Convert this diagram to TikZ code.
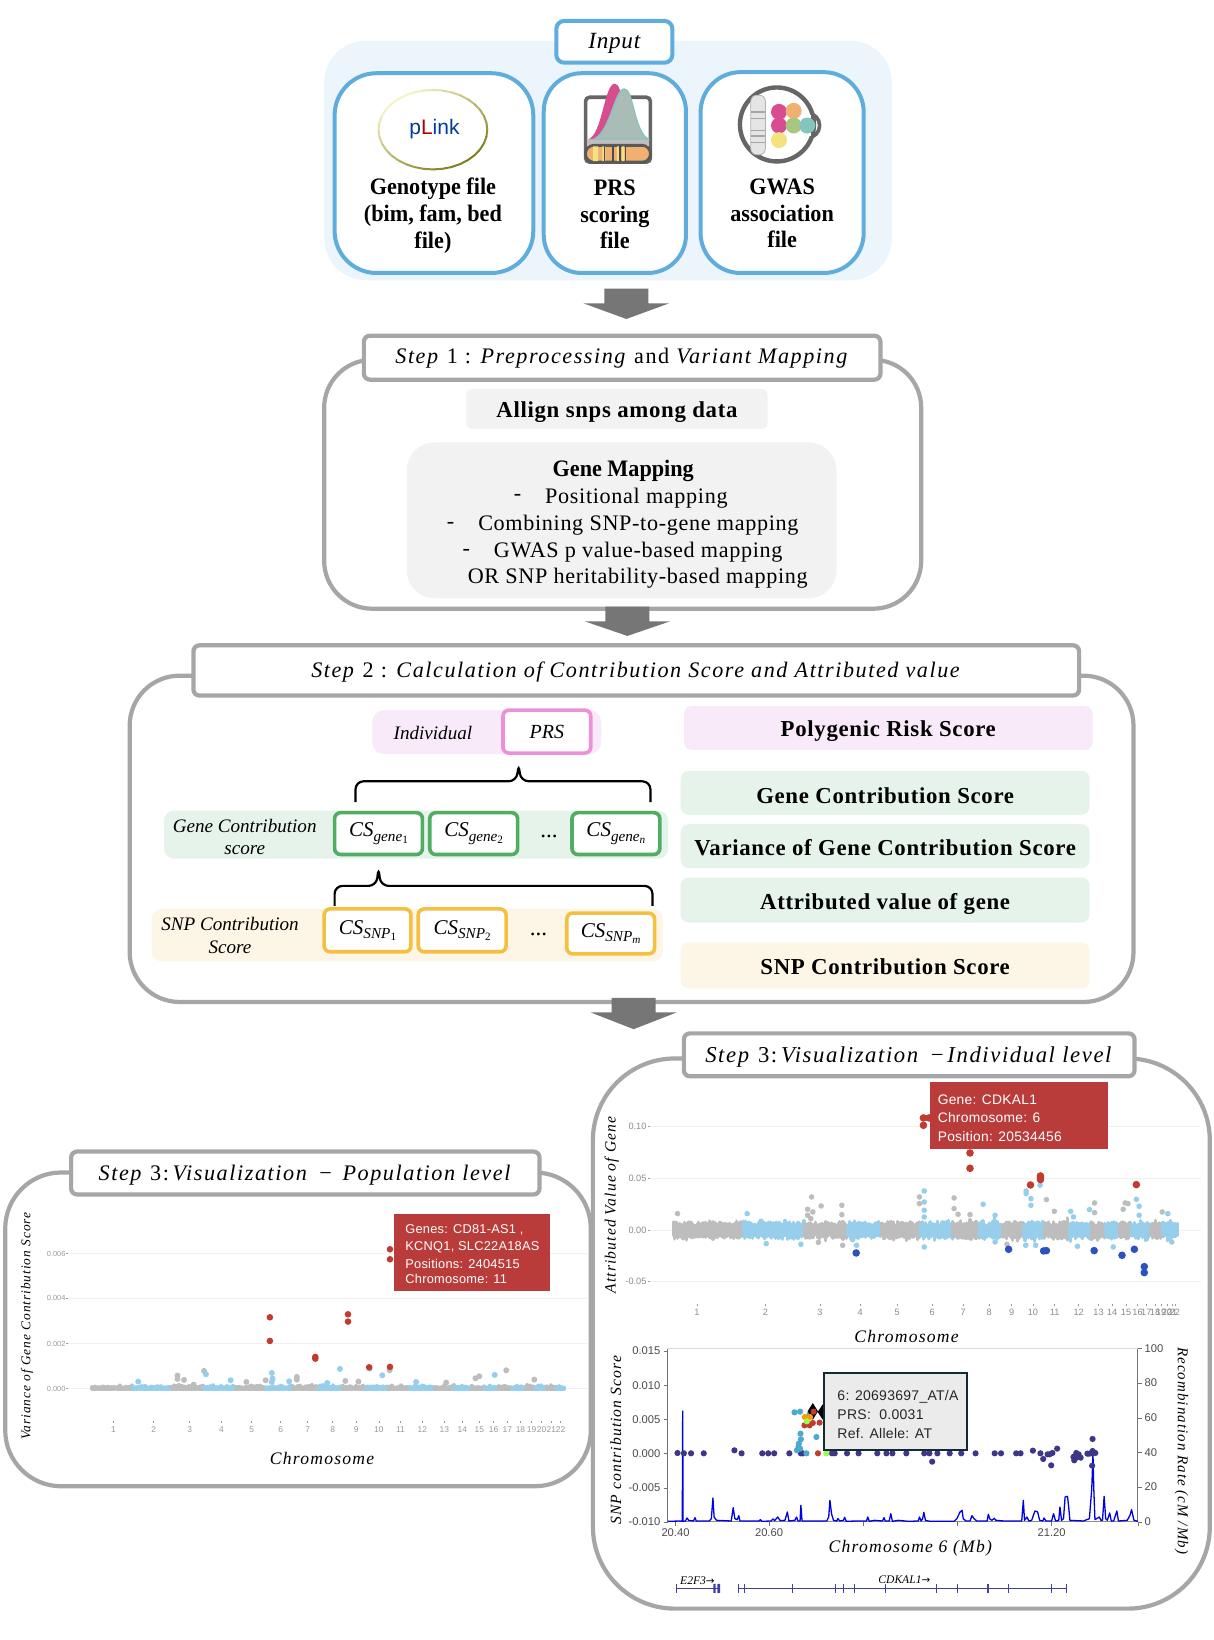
\documentclass[tikz,border=0pt]{standalone}
\usepackage{fontspec}
\setmainfont{Liberation Serif}
\setsansfont{Liberation Sans}
\newfontfamily\ttl[LetterSpace=7]{Liberation Serif}
\newfontfamily\lbl[LetterSpace=3]{Liberation Serif}
\newfontfamily\cond[FakeStretch=0.94]{Liberation Serif}
\newfontfamily\tip[LetterSpace=2]{Liberation Sans}
\newfontfamily\arrowfont{DejaVu Sans}
\definecolor{inblue}{HTML}{5FADDC}
\definecolor{inpanel}{HTML}{ECF5FC}
\definecolor{stepgray}{HTML}{A6A6A6}
\definecolor{arrowgray}{HTML}{767676}
\definecolor{softgray}{HTML}{F2F2F2}
\definecolor{pinkpanel}{HTML}{F8EAF8}
\definecolor{pinkline}{HTML}{EE90D8}
\definecolor{greenpanel}{HTML}{E6F3EA}
\definecolor{greenline}{HTML}{4FAE62}
\definecolor{orangepanel}{HTML}{FDF5E6}
\definecolor{orangeline}{HTML}{F5BF42}
\definecolor{tipred}{HTML}{BA3C3A}
\definecolor{dotred}{HTML}{C23B2E}
\definecolor{dotgray}{HTML}{BDBDBD}
\definecolor{dotblue}{HTML}{97CEEC}
\definecolor{dotdark}{HTML}{2B53BF}
\definecolor{navy}{HTML}{3D3689}
\definecolor{teal}{HTML}{4CA9CF}
\definecolor{trackblue}{HTML}{3F3FA5}
\definecolor{ylw}{HTML}{F4F4C8}
\definecolor{olv}{HTML}{7E7E1C}
\definecolor{icpink}{HTML}{D84C90}
\definecolor{icgreen}{HTML}{A9BDB6}
\definecolor{icteal}{HTML}{86C5BE}
\definecolor{icorange}{HTML}{EFB072}
\definecolor{icyellow}{HTML}{F3E27E}
\definecolor{icleaf}{HTML}{A7C77F}
\tikzset{
  rb/.style={rectangle,inner sep=0pt,align=center},
  inbox/.style={draw=inblue,line width=2pt,fill=white},
  stepbox/.style={draw=stepgray,line width=2.1pt,fill=white,rounded corners=3pt},
  mainbox/.style={draw=stepgray,line width=2.1pt,fill=white},
  softbox/.style={fill=softgray},
  txt/.style={inner sep=0pt,align=center,font=\fontsize{11.6}{13}\selectfont},
  gmtxt/.style={inner sep=0pt,align=center,font=\lbl\fontsize{11.08}{13}\selectfont},
  ital/.style={inner sep=0pt,align=center,font=\fontsize{9.55}{11.2}\selectfont\itshape},
  axl/.style={inner sep=0pt,font=\ttl\fontsize{7.8}{9}\selectfont\itshape},
  axx/.style={inner sep=0pt,font=\ttl\fontsize{8.8}{10}\selectfont\itshape},
  tiptext/.style={inner sep=0pt,anchor=west,text=white,font=\tip\fontsize{6.9}{8}\selectfont},
  sm/.style={inner sep=0pt,text=gray!80,font=\sffamily\fontsize{4.2}{5}\selectfont},
  smb/.style={inner sep=0pt,text=gray!90,font=\sffamily\fontsize{4.6}{5}\selectfont},
  ax/.style={inner sep=0pt,text=black!70,font=\sffamily\fontsize{5.6}{6}\selectfont},
  boldtxt/.style={inner sep=0pt,align=center,font=\cond\fontsize{11.8}{13.4}\selectfont\bfseries},
}
\newcommand\rbox[7]{%
  \pgfmathsetmacro\bw{(#5-#3)*0.52282}%
  \pgfmathsetmacro\bh{(#6-#4)*0.52296}%
  \pgfmathsetmacro\bx{(#3+#5)/2}%
  \pgfmathsetmacro\by{(#4+#6)/2}%
  \node[rb,#2,minimum width=\bw pt,minimum height=\bh pt] (#1) at (\bx,\by) {#7};}
\newcommand\blockarrow[4]{%
  \fill[arrowgray] ({#1-21},#2) -- ({#1+21},#2) -- ({#1+21},#3) -- ({#1+41},#3) -- (#1,#4) -- ({#1-41},#3) -- ({#1-21},#3) -- cycle;}
\newcommand\csub[2]{\textit{CS}\raisebox{-0.45ex}{\fontsize{7.6}{8}\selectfont\itshape #1\raisebox{-0.3ex}{\fontsize{5.6}{6}\selectfont #2}}}
\newcommand\dn[2]{\raisebox{0pt}[\dimexpr\height+#1pt+#1pt\relax][\depth]{#2}}
\newcommand\boldlab[2]{\dn{#1}{\lbl\fontsize{11.4}{13}\selectfont\bfseries #2}}
\begin{document}
\begin{tikzpicture}[x=0.52282pt,y=-0.52296pt]
\useasboundingbox (0,0) rectangle (1161,1568);
\fill[white] (0,0) rectangle (1161,1568);

% ---------- Input
\fill[inpanel,rounded corners=21pt] (310,39) rectangle (853,268);
\rbox{geno}{inbox,rounded corners=21pt}{320}{70}{510}{261}{}
\rbox{prsf}{inbox,rounded corners=19pt}{520}{70}{656}{261}{}
\rbox{gwas}{inbox,rounded corners=20pt}{670}{69}{826}{261}{}
\rbox{input}{inbox,rounded corners=4pt}{532}{20}{643}{60}{\dn{1}{\fontsize{11.6}{13}\selectfont\itshape\lbl Input}}
\node[boldtxt] (genot) at (414,206.5) {Genotype file\\(bim, fam, bed\\file)};
\node[boldtxt] (prst) at (588,205) {PRS\\scoring\\file};
\node[boldtxt] (gwast) at (748,204) {GWAS\\association\\file};

% plink logo
\foreach \a in {0,10,...,350}{
  \pgfmathtruncatemacro\p{100*(1+cos(\a-45))/2}
  \pgfmathsetmacro\b{\a+10}
  \draw[olv!\p!ylw,line width=1pt,line cap=round] ({414+52*cos(\a)},{124+38*sin(\a)}) -- ({414+52*cos(\b)},{124+38*sin(\b)});
}
\node[inner sep=0pt,font=\sffamily\fontsize{10.5}{12}\selectfont] (plink) at (415.5,123.5) {\textcolor{blue!60!cyan!60!black}{p}\textcolor{red!70!black}{L}\textcolor{blue!60!cyan!60!black}{ink}};

% PRS icon
\draw[black!60,line width=1.8pt,rounded corners=2pt,fill=white] (560,93) rectangle (622,155);
\fill[black!25] (561,133) rectangle (621,139);
\fill[icpink] (563,133) .. controls (576,128) and (578,80) .. (588,80) .. controls (596,80) and (596,115) .. (603,133) -- cycle;
\fill[fill=icgreen,draw=icteal,line width=.6pt] (568,133) .. controls (584,125) and (588,85) .. (597,85) .. controls (606,85) and (606,125) .. (620,133) -- cycle;
\fill[icorange,draw=black!65,line width=1.4pt,rounded corners=4pt] (560,139) rectangle (622,155);
\fill[icyellow] (567,140) rectangle (572,154) (576,140) rectangle (579,154) (590,140) rectangle (592,154) (595,140) rectangle (597,154);
\draw[black!70,line width=.8pt] (578,140) -- (578,154) (586,140)--(586,154) (593,140)--(593,154) (598,140)--(598,154);

% GWAS icon
\draw[black!60,line width=1.8pt,fill=white] (772,120) circle (6.2pt);
\draw[black!60,line width=2.2pt,fill=white] (743,119) circle (18.5pt);
\fill[white] (768,110) rectangle (776,130);
\fill[black!10,draw=black!30,line width=.4pt,rounded corners=3pt] (718,91) rectangle (732,148);
\foreach \yy in {107,113,125,130,136}{\draw[black!35,line width=.6pt] (718,\yy) -- (732,\yy);}
\foreach \cx/\cy/\cc in {745/107/icpink,759/106/icorange,745/120/icpink,759/120/icleaf,772/120/icteal,745/134/icyellow}{
  \fill[\cc] (\cx,\cy) circle (4pt);
}
\blockarrow{599}{276}{290}{305}

% ---------- Step 1
\rbox{s1main}{mainbox,rounded corners=24pt}{310}{344}{881}{582}{}
\rbox{s1title}{stepbox}{348}{321}{842}{363}{\dn{.3}{\ttl\fontsize{11.08}{13}\selectfont\textit{Step} 1 : \textit{Preprocessing} and \textit{Variant Mapping}}}
\rbox{allign}{softbox,rounded corners=3pt}{446}{372}{734}{410}{\boldlab{1.6}{Allign snps among data}}
\rbox{genemap}{softbox,rounded corners=14pt}{389}{423}{800}{572}{}
\node[boldtxt] (gm0) at (596,450) {Gene Mapping};
\node[gmtxt] (gmd1) at (495,476) {-};
\node[gmtxt,anchor=west] (gm1) at (521,476) {Positional mapping};
\node[gmtxt] (gmd2) at (431,502) {-};
\node[gmtxt,anchor=west] (gm2) at (457,502) {Combining SNP-to-gene mapping};
\node[gmtxt] (gmd3) at (446,528) {-};
\node[gmtxt,anchor=west] (gm3) at (472,528) {GWAS p value-based mapping};
\node[gmtxt,anchor=west] (gm4) at (447,553) {OR SNP heritability-based mapping};
\blockarrow{600}{580}{594}{608}

% ---------- Step 2
\rbox{s2main}{mainbox,rounded corners=25pt}{124}{646}{1084}{958}{}
\rbox{s2title}{stepbox}{185}{617}{1032}{665}{\dn{.8}{\ttl\fontsize{11.08}{13}\selectfont\textit{Step} 2 : \textit{Calculation of Contribution Score and Attributed value}}}
\rbox{indp}{fill=pinkpanel,rounded corners=6pt}{356}{679}{575}{721}{}
\node[ital] (indt) at (414,701) {Individual};
\rbox{prsb}{draw=pinkline,line width=1.8pt,fill=white,rounded corners=3pt}{481}{679}{565}{720}{\fontsize{10}{12}\selectfont\itshape PRS}
\draw[black,line width=1.1pt,rounded corners=4pt] (340,767) -- (340,747) -- (494,747) -- (496,730) -- (498,747) -- (622,747) -- (622,767);
\rbox{genep}{fill=greenpanel,rounded corners=5pt}{157}{775}{639}{821}{}
\node[ital] (genet) at (234,800.5) {Gene Contribution\\score};
\rbox{g1}{draw=greenline,line width=1.8pt,fill=white,rounded corners=3pt}{320}{777}{404}{817}{\fontsize{10.5}{12}\selectfont\csub{gene}{\upshape 1}}
\rbox{g2}{draw=greenline,line width=1.8pt,fill=white,rounded corners=3pt}{411}{777}{495}{817}{\fontsize{10.5}{12}\selectfont\csub{gene}{\upshape 2}}
\rbox{g3}{draw=greenline,line width=1.8pt,fill=white,rounded corners=3pt}{547}{777}{631}{817}{\fontsize{10.5}{12}\selectfont\csub{gene}{n}}
\node[txt] (gdots) at (525,800) {...};
\draw[black,line width=1.1pt,rounded corners=4pt] (320,866) -- (320,847) -- (360,847) -- (362,829) -- (364,847) -- (624,847) -- (624,866);
\rbox{snpp}{fill=orangepanel,rounded corners=5pt}{145}{869}{634}{919}{}
\node[ital] (snpt) at (220,894.5) {SNP Contribution\\Score};
\rbox{c1}{draw=orangeline,line width=1.8pt,fill=white,rounded corners=3pt}{310}{869}{393}{910}{\fontsize{10.5}{12}\selectfont\csub{SNP}{\upshape 1}}
\rbox{c2}{draw=orangeline,line width=1.8pt,fill=white,rounded corners=3pt}{400}{869}{484}{910}{\fontsize{10.5}{12}\selectfont\csub{SNP}{\upshape 2}}
\rbox{c3}{draw=orangeline,line width=1.8pt,fill=white,rounded corners=3pt}{542}{873}{626}{912}{\fontsize{10.5}{12}\selectfont\csub{SNP}{m}}
\node[txt] (sdots) at (515,893) {...};
\rbox{lprs}{fill=pinkpanel,rounded corners=4pt}{654}{675}{1045}{717}{\boldlab{1.6}{Polygenic Risk Score}}
\rbox{lgcs}{fill=greenpanel,rounded corners=4pt}{651}{737}{1042}{779}{\boldlab{1.4}{Gene Contribution Score}}
\rbox{lvar}{fill=greenpanel,rounded corners=4pt}{651}{788}{1042}{830}{\boldlab{0.8}{Variance of Gene Contribution Score}}
\rbox{latt}{fill=greenpanel,rounded corners=4pt}{651}{839}{1042}{882}{\boldlab{2}{Attributed value of gene}}
\rbox{lsnp}{fill=orangepanel,rounded corners=4pt}{651}{901}{1042}{945}{\boldlab{0.8}{SNP Contribution Score}}

% ---------- Step 3 population
\rbox{s3pop}{mainbox,rounded corners=28pt}{5}{1121}{565}{1421}{}
\rbox{s3ptitle}{stepbox}{68}{1101}{516}{1142}{\dn{1}{\ttl\fontsize{11.1}{13}\selectfont\textit{Step} 3:\,\textit{Visualization} \,−\, \textit{Population level}}}
\begin{scope}[shift={(0,1090.2)},x=0.19249pt,y=-0.16667pt]
  \foreach \zy/\lab in {340/0.006,474/0.004,610/0.002,745/0.000}{
    \draw[black!6,line width=.4pt] (175,\zy) -- (1525,\zy);
    \draw[black!40,line width=.3pt] (172,\zy) -- (176,\zy);
    \node[sm,anchor=east,font=\sffamily\fontsize{3.7}{4}\selectfont] (py\zy) at (171,\zy) {\lab};
  }
  \pgfmathsetseed{4242}
  \foreach \a/\b/\c in {240/298/dotgray,303/345/dotgray,345/448/dotblue,448/530/dotgray,530/612/dotblue,612/690/dotgray,690/762/dotblue,762/828/dotgray,828/890/dotblue,890/916/dotgray,922/950/dotgray,950/1010/dotblue,1010/1065/dotgray,1065/1130/dotblue,1130/1180/dotgray,1180/1225/dotblue,1225/1260/dotgray,1260/1295/dotblue,1295/1330/dotgray,1330/1365/dotblue,1365/1390/dotgray,1390/1420/dotblue,1420/1445/dotgray,1445/1465/dotblue}{
    \pgfmathsetmacro\nx{\a+4}
    \foreach \xx in {\a,\nx,...,\b}{
      \pgfmathsetmacro\yt{745-3-9*rnd*rnd}
      \draw[\c,line width=2pt,line cap=round] (\xx,\yt) -- (\xx,746);
    }
  }
  \foreach \xx/\yy in {461/706,461/716,478/719,530/692,690/720,771/710,771/718,897/722,931/724,1012/690,1159/727,1235/714,1245/708,1315/690,1388/718,640/725,503/733}{\fill[dotgray] (\xx,\yy) circle (1.5pt);}
  \foreach \xx/\yy in {359/724,535/702,599/720,706/698,708/715,751/723,883/686,850/728,993/705,1081/725,1285/704,960/685,706/725}{\fill[dotblue] (\xx,\yy) circle (1.5pt);}
  \foreach \xx/\yy in {701/531,701/602,904/522,904/544,819/650,819/655,959/681,1013/680,1013/327,1013/357}{\fill[dotred] (\xx,\yy) circle (1.65pt);}
  \foreach \xx/\lab [count=\i] in {295/1,399/2,493/3,575/4,654/5,729/6,799/7,864/8,925/9,984/10,1040/11,1097/12,1154/13,1201/14,1245/15,1282/16,1318/17,1352/18,1381/19,1407/20,1432/21,1456/22}{
    \draw[black!40,line width=.3pt] (\xx,843) -- (\xx,848);
    \node[sm] (px\i) at (\xx,868) {\lab};
  }
  \fill[tipred] (1023,220) rectangle (1428,452);
  \node[tiptext,font=\tip\fontsize{6.4}{8}\selectfont] (pt1) at (1052,268) {Genes: CD81-AS1 ,};
  \node[tiptext,font=\tip\fontsize{6.4}{8}\selectfont] (pt2) at (1052,320) {KCNQ1, SLC22A18AS};
  \node[tiptext,font=\tip\fontsize{6.4}{8}\selectfont] (pt3) at (1052,370) {Positions: 2404515};
  \node[tiptext,font=\tip\fontsize{6.4}{8}\selectfont] (pt4) at (1052,416) {Chromosome: 11};
\end{scope}
\node[axl,rotate=90,font=\ttl\fontsize{6.7}{8}\selectfont\itshape] (pyl) at (26,1268) {Variance of Gene Contribution Score};
\node[axx] (pxl) at (308,1394) {Chromosome};

% ---------- Step 3 individual
\rbox{s3ind}{mainbox,rounded corners=41pt}{567}{1012}{1157}{1538}{}
\rbox{s3ititle}{stepbox}{654}{988}{1085}{1029}{\dn{1}{\ttl\fontsize{11.35}{13}\selectfont\textit{Step} 3:\,\textit{Visualization} \,−\,\textit{Individual level}}}
\blockarrow{606}{954}{968}{984}
\begin{scope}[shift={(564.2,994.6)},x=0.19898pt,y=-0.16667pt]
  \foreach \zy/\lab in {259/0.10,415/0.05,570/0.00,724/-0.05}{
    \draw[black!6,line width=.4pt] (150,\zy) -- (1535,\zy);
    \draw[black!40,line width=.3pt] (147,\zy) -- (151,\zy);
    \node[smb,anchor=east] (iy\zy) at (143,\zy) {\lab};
  }
  \pgfmathsetseed{777}
  \foreach \a/\b/\c in {210/385/dotgray,385/540/dotblue,540/647/dotgray,647/733/dotblue,733/832/dotgray,832/910/dotblue,910/980/dotgray,980/1038/dotblue,1038/1090/dotgray,1090/1143/dotblue,1143/1205/dotgray,1205/1260/dotblue,1260/1295/dotgray,1295/1330/dotblue,1330/1362/dotgray,1362/1410/dotblue,1410/1440/dotgray,1440/1478/dotblue}{
    \pgfmathsetmacro\nx{\a+3}
    \foreach \xx in {\a,\nx,...,\b}{
      \pgfmathsetmacro\yt{570-13-12*rnd-30*rnd*rnd*rnd*rnd}
      \pgfmathsetmacro\yb{570+12+12*rnd+28*rnd*rnd*rnd*rnd}
      \draw[\c,line width=1.6pt,line cap=round] (\xx,\yt) -- (\xx,\yb);
    }
  }
  \foreach \xx/\yy in {557/470,547/507,547/525,581/497,633/495,633/523,828/470,828/490,915/473,915/505,925/522,955/523,1147/478,1167/513,1268/488,1268/517,1340/507,1345/488,1352/490,1438/515,220/520,574/606,635/615,1048/612,560/515,555/535}{\fill[dotgray] (\xx,\yy) circle (1.4pt);}
  \foreach \xx/\yy in {840/452,840/485,840/510,840/530,1096/452,1096/460,1108/475,1108/495,1131/435,988/492,1018/525,1208/513,1255/508,1373/477,1380/498,1452/520,430/543,395/520,443/610,530/612,660/598,670/615,840/620,1018/605,1095/615,1120/615,1225/618,1315/620,1462/605,1215/530,1380/525}{\fill[dotblue] (\xx,\yy) circle (1.4pt);}
  \foreach \xx/\yy in {669/638,1052/627,1140/632,1147/631,1267/631,1337/645,1368/627,1393/679,1393/697}{\fill[dotdark] (\xx,\yy) circle (1.9pt);}
  \foreach \xx/\yy in {838/233,838/255,852/233,955/338,955/384,1107/434,1132/407,1132/412,1132/418,1373/433}{\fill[dotred] (\xx,\yy) circle (1.9pt);}
  \foreach \xx/\lab [count=\i] in {269/1,441/2,578/3,679/4,772/5,860/6,938/7,1003/8,1060/9,1113/10,1168/11,1228/12,1278/13,1312/14,1347/15,1376/16,1398/17,1420/18,1435/19,1450/20,1463/21,1470/22}{
    \draw[black!40,line width=.3pt] (\xx,790) -- (\xx,796);
    \node[smb] (ix\i) at (\xx,817) {\lab};
  }
  \fill[tipred] (854,125) rectangle (1303,327);
  \node[tiptext] (it1) at (873,177) {Gene: CDKAL1};
  \node[tiptext] (it2) at (873,232) {Chromosome: 6};
  \node[tiptext] (it3) at (873,289) {Position: 20534456};
\end{scope}
\node[axl] at (585,1152) [rotate=90,name=iyl] {Attributed Value of Gene};
\node[axx] (ixl) at (867,1278) {Chromosome};

% ---------- locus plot
\begin{scope}[shift={(564.2,1271.9)},x=0.19898pt,y=-0.16667pt]
  \draw[black!15,line width=.5pt] (196,55) -- (1377,55);
  \draw[black!55,line width=.5pt] (196,55) -- (196,575);
  \draw[black!55,line width=.5pt] (1377,55) -- (1377,575);
  \draw[black!45,line width=.5pt] (196,575) -- (1377,575);
  \foreach \zy/\lab in {62/0.015,165/0.010,268/0.005,370/0.000,473/-0.005,575/-0.010}{
    \draw[black!55,line width=.4pt] (185,\zy) -- (196,\zy);
    \node[ax,anchor=east] (ly\zy) at (178,\zy) {\lab};
  }
  \foreach \zy/\lab in {55/100,158/80,263/60,367/40,470/20,575/0}{
    \draw[black!55,line width=.4pt] (1377,\zy) -- (1388,\zy);
    \node[ax,anchor=west] (ry\zy) at (1393,\zy) {\lab};
  }
  \foreach \xx in {215,450,687,923,1160,1377}{\draw[black!55,line width=.4pt] (\xx,575) -- (\xx,586);}
  \node[ax] (b1) at (215,608) {20.40};
  \node[ax] (b2) at (450,608) {20.60};
  \node[ax] (b3) at (1160,608) {21.20};
  \draw[blue!90!black,line width=.65pt,line join=round] (196,573)--(228,572)--(232,573)--(233,242)--(234,573)--(240,572)--(244,563)--(248,570)--(260,572)--(264,562)--(267,572)--(300,572)--(305,565)--(309,503)--(312,560)--(318,570)--(355,572)--(360,532)--(364,565)--(370,568)--(374,556)--(377,572)--(425,572)--(428,568)--(432,573)--(455,572)--(460,566)--(464,571)--(472,560)--(478,571)--(490,570)--(496,545)--(500,572)--(515,570)--(519,560)--(523,572)--(528,572)--(530,525)--(533,572)--(595,572)--(600,560)--(603,510)--(607,550)--(612,570)--(620,572)--(623,565)--(628,572)--(637,570)--(640,561)--(644,573)--(670,572)--(695,572)--(698,560)--(702,573)--(715,570)--(735,572)--(739,562)--(742,572)--(752,572)--(756,550)--(760,573)--(775,570)--(800,573)--(825,572)--(828,560)--(832,572)--(836,565)--(839,546)--(843,570)--(855,573)--(915,573)--(922,565)--(930,545)--(935,540)--(938,565)--(945,572)--(955,572)--(960,556)--(965,565)--(972,572)--(998,572)--(1001,552)--(1005,566)--(1010,570)--(1016,564)--(1020,570)--(1040,572)--(1085,572)--(1089,510)--(1092,570)--(1098,560)--(1103,572)--(1110,570)--(1118,542)--(1125,545)--(1130,570)--(1138,572)--(1141,563)--(1146,572)--(1160,572)--(1165,550)--(1170,572)--(1178,570)--(1181,530)--(1185,570)--(1190,565)--(1194,500)--(1200,498)--(1203,530)--(1206,570)--(1240,572)--(1255,565)--(1261,474)--(1264,370)--(1266,474)--(1269,568)--(1280,560)--(1284,570)--(1288,570)--(1292,498)--(1296,565)--(1300,570)--(1306,548)--(1310,572)--(1316,572)--(1324,542)--(1328,572)--(1350,570)--(1357,555)--(1361,538)--(1367,570)--(1377,573);
  \foreach \xx/\yy in {220/368,236/369,254/369,286/369,363/360,381/369,433/369,448/369,463/369,501/369,530/369,535/369,608/369,615/369,646/369,675/369,722/369,745/369,760/369,795/369,840/369,853/369,873/369,904/369,933/369,969/369,1017/369,1033/369,1071/369,1082/369,1113/361,1132/369,1139/386,1150/372,1155/372,1162/368,1159/405,1174/355,860/394,1263/326,1263/362,1262/369,1255/370,1270/368,1250/370,1262/406,1217/390,1218/378,1222/368,1228/372,1233/382,1222/382,1215/380}{\fill[navy] (\xx,\yy) circle (1.55pt);}
  \foreach \xx/\yy in {514/246,528/244,569/320,529/310,530/327,525/340,524/350,520/360,528/355,544/369,552/252}{\fill[teal] (\xx,\yy) circle (1.55pt);}
  \fill[black] (560,218) -- (573,243) -- (560,268) -- (547,243) -- cycle;
  \fill[black] (585,222) -- (598,245) -- (585,268) -- (572,245) -- cycle;
  \foreach \xx/\yy in {539/285,552/285,560/278,577/277,562/244,573/369}{\fill[dotred] (\xx,\yy) circle (1.55pt);}
  \foreach \xx/\yy in {540/260,553/260}{\fill[orange!80!yellow] (\xx,\yy) circle (1.55pt);}
  \foreach \xx/\yy in {545/273,594/369}{\fill[green!60!yellow!70!white] (\xx,\yy) circle (1.55pt);}
  \fill[black!8,draw=black!75!teal,line width=.9pt] (589,128) rectangle (948,360);
  \node[tiptext,text=black!85,font=\tip\fontsize{7}{8}\selectfont] (lt1) at (621,199) {6: 20693697\_AT/A};
  \node[tiptext,text=black!85,font=\tip\fontsize{7}{8}\selectfont] (lt2) at (621,253) {PRS:\ \ 0.0031};
  \node[tiptext,text=black!85,font=\tip\fontsize{7}{8}\selectfont] (lt3) at (621,309) {Ref. Allele: AT};
  \node[inner sep=0pt,font=\fontsize{5.8}{6}\selectfont\itshape] (e2f) at (270,750) {E2F3{\arrowfont\upshape\fontsize{5.2}{6}\selectfont →}};
  \node[inner sep=0pt,font=\fontsize{5.8}{6}\selectfont\itshape] (cdk) at (790,748) {CDKAL1{\arrowfont\upshape\fontsize{5.2}{6}\selectfont →}};
  \draw[trackblue,line width=.8pt] (217,775) -- (327,775) (373,775) -- (1197,775);
  \draw[trackblue,line width=.7pt] (217,761) -- (217,788);
  \fill[trackblue] (310,761) rectangle (316,788) (320,761) rectangle (327,788);
  \foreach \xx in {373,388,509,616,638,665,742,870,923,1000,1051,1159,1197}{\draw[trackblue,line width=.6pt] (\xx,761) -- (\xx,788);}
\end{scope}
\node[axl,rotate=90] (lyl) at (589,1377) {SNP contribution Score};
\node[axl,rotate=-90,font=\ttl\fontsize{7.5}{9}\selectfont\itshape] (ryl) at (1130,1387) {Recombination Rate (cM /Mb)};
\node[axx] (lxl) at (870.6,1480.7) {Chromosome 6 (Mb)};
\end{tikzpicture}
\end{document}
